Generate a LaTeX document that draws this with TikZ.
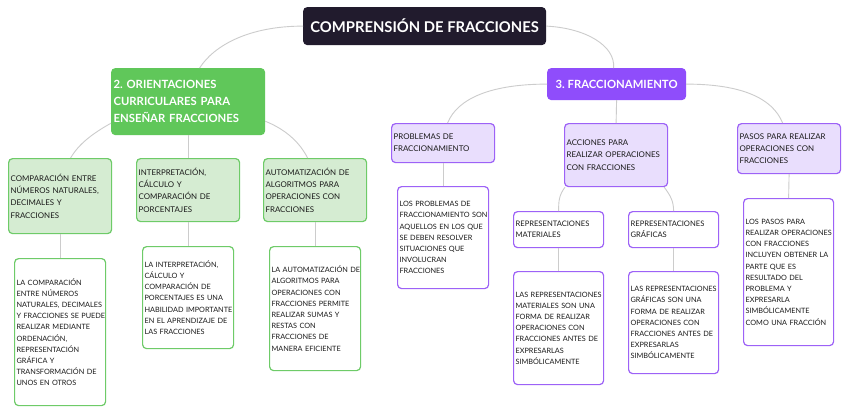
\documentclass[tikz,border=0pt]{standalone}
\usepackage{fontspec}
\setmainfont{Lato}
\usetikzlibrary{calc}
\frenchspacing
\hyphenpenalty=10000
\exhyphenpenalty=10000
\definecolor{rootfill}{HTML}{211B2D}
\definecolor{gmain}{HTML}{60C75A}
\definecolor{glight}{HTML}{D5ECD2}
\definecolor{gborder}{HTML}{6ECB68}
\definecolor{pmain}{HTML}{8F4DFB}
\definecolor{plight}{HTML}{E9DEFD}
\definecolor{pborder}{HTML}{9D62F7}
\definecolor{edgec}{HTML}{CCCCCC}
\definecolor{txt}{HTML}{1A1A1A}
\tikzset{
  base/.style={rectangle, rounded corners=4pt, anchor=north west, inner xsep=2pt, inner ysep=0pt, align=left, line width=1.2pt},
  rootbox/.style={base, fill=rootfill, draw=rootfill, text=white, align=center, font=\fontsize{14.8}{17}\selectfont\bfseries},
  gmainbox/.style={base, fill=gmain, draw=gmain, text=white, font=\fontsize{11.3}{17}\selectfont\bfseries},
  pmainbox/.style={base, fill=pmain, draw=pmain, text=white, align=center, font=\fontsize{11.3}{17}\selectfont\bfseries},
  gchild/.style={base, fill=glight, draw=gborder, text=txt, font=\fontsize{7.9}{12.3}\selectfont},
  gdetail/.style={base, fill=white, draw=gborder, text=txt, font=\fontsize{7.3}{11.2}\selectfont},
  pchild/.style={base, fill=plight, draw=pborder, text=txt, font=\fontsize{7.9}{12.1}\selectfont},
  pchildsmall/.style={base, fill=white, draw=pborder, text=txt, font=\fontsize{7.6}{11.3}\selectfont},
  pdetail/.style={base, fill=white, draw=pborder, text=txt, font=\fontsize{7.3}{11.2}\selectfont},
  conn/.style={draw=edgec, line width=0.9pt}
}
\begin{document}
\begin{tikzpicture}[x=1pt,y=-1pt]
\useasboundingbox[fill=white] (0,0) rectangle (848,413);

% nodes
\node[rootbox, minimum width=242pt, minimum height=37pt] (root) at (303,7) {COMPRENSIÓN DE FRACCIONES};

\node[gmainbox, text width=149pt, minimum height=66pt] (g) at (111,68) {2.~ORIENTACIONES\\CURRICULARES~PARA\\ENSEÑAR~FRACCIONES};
\node[pmainbox, minimum width=138pt, minimum height=31pt] (p) at (547,68) {3. FRACCIONAMIENTO};

\node[gchild, text width=99pt, minimum height=75pt] (c1) at (8,158) {COMPARACIÓN~ENTRE\\NÚMEROS~NATURALES,\\DECIMALES~Y\\FRACCIONES};
\node[gchild, text width=99pt, minimum height=63pt] (c2) at (136,158) {INTERPRETACIÓN,\\CÁLCULO~Y\\COMPARACIÓN~DE\\PORCENTAJES};
\node[gchild, text width=99pt, minimum height=63pt] (c3) at (263,158) {AUTOMATIZACIÓN~DE\\ALGORITMOS~PARA\\OPERACIONES~CON\\FRACCIONES};

\node[gdetail, text width=87pt, minimum height=147pt] (d1) at (14,258) {LA~COMPARACIÓN\\ENTRE~NÚMEROS\\NATURALES,~DECIMALES\\Y~FRACCIONES~SE~PUEDE\\REALIZAR~MEDIANTE\\ORDENACIÓN,\\REPRESENTACIÓN\\GRÁFICA~Y\\TRANSFORMACIÓN~DE\\UNOS~EN~OTROS};
\node[gdetail, text width=87pt, minimum height=102pt] (d2) at (142,246) {LA~INTERPRETACIÓN,\\CÁLCULO~Y\\COMPARACIÓN~DE\\PORCENTAJES~ES~UNA\\HABILIDAD~IMPORTANTE\\EN~EL~APRENDIZAJE~DE\\LAS~FRACCIONES};
\node[gdetail, text width=87pt, minimum height=124pt] (d3) at (269,246) {LA~AUTOMATIZACIÓN~DE\\ALGORITMOS~PARA\\OPERACIONES~CON\\FRACCIONES~PERMITE\\REALIZAR~SUMAS~Y\\RESTAS~CON\\FRACCIONES~DE\\MANERA~EFICIENTE};

\node[pchild, text width=99pt, minimum height=39pt] (q1) at (391,123) {PROBLEMAS~DE\\FRACCIONAMIENTO};
\node[pchild, text width=99pt, minimum height=63pt] (q2) at (564,123) {ACCIONES~PARA\\REALIZAR~OPERACIONES\\CON~FRACCIONES};
\node[pchild, text width=99pt, minimum height=50pt] (q3) at (737,123) {PASOS~PARA~REALIZAR\\OPERACIONES~CON\\FRACCIONES};

\node[pdetail, text width=87pt, minimum height=102pt] (q1d) at (397,186) {LOS~PROBLEMAS~DE\\FRACCIONAMIENTO~SON\\AQUELLOS~EN~LOS~QUE\\SE~DEBEN~RESOLVER\\SITUACIONES~QUE\\INVOLUCRAN\\FRACCIONES};
\node[pdetail, text width=86pt, minimum height=147pt] (q3d) at (743,198) {LOS~PASOS~PARA\\REALIZAR~OPERACIONES\\CON~FRACCIONES\\INCLUYEN~OBTENER~LA\\PARTE~QUE~ES\\RESULTADO~DEL\\PROBLEMA~Y\\EXPRESARLA\\SIMBÓLICAMENTE\\COMO~UNA~FRACCIÓN};

\node[pchildsmall, text width=86pt, minimum height=36pt] (rm) at (513,211) {REPRESENTACIONES\\MATERIALES};
\node[pchildsmall, text width=86pt, minimum height=36pt] (rg) at (628,211) {REPRESENTACIONES\\GRÁFICAS};
\node[pdetail, text width=86pt, minimum height=113pt] (rmd) at (513,271) {LAS~REPRESENTACIONES\\MATERIALES~SON~UNA\\FORMA~DE~REALIZAR\\OPERACIONES~CON\\FRACCIONES~ANTES~DE\\EXPRESARLAS\\SIMBÓLICAMENTE};
\node[pdetail, text width=86pt, minimum height=102pt] (rgd) at (628,271) {LAS~REPRESENTACIONES\\GRÁFICAS~SON~UNA\\FORMA~DE~REALIZAR\\OPERACIONES~CON\\FRACCIONES~ANTES~DE\\EXPRESARLAS\\SIMBÓLICAMENTE};

% connectors
\draw[conn] (root.west) .. controls +(-55,0) and +(14,-22) .. ($(g.north)+(11.5,0)$);
\draw[conn] (root.east) .. controls +(40,2) and +(2,-22) .. ($(p.north)+(-3,0)$);

\draw[conn] ($(g.south west)+(0,-12)$) .. controls +(-18,10) and +(8,-14) .. ($(c1.north)+(10.5,0)$);
\draw[conn] (g.south) -- (c2.north);
\draw[conn] ($(g.south east)+(0,-14)$) .. controls +(20,8) and +(-8,-16) .. ($(c3.north)+(-7.5,0)$);

\draw[conn] (c1.south) -- (d1.north);
\draw[conn] (c2.south) -- (d2.north);
\draw[conn] (c3.south) -- (d3.north);

\draw[conn] (p.west) .. controls +(-55,0) and +(10,-25) .. ($(q1.north)+(4.5,0)$);
\draw[conn] (p.south) -- (q2.north);
\draw[conn] (p.east) .. controls +(55,0) and +(-10,-25) .. ($(q3.north)+(-6.5,0)$);

\draw[conn] (q1.south) -- (q1d.north);
\draw[conn] (q3.south) -- (q3d.north);

\draw[conn] ($(q2.south west)+(1,0)$) .. controls +(-6,8) and +(0,-10) .. (rm.north);
\draw[conn] ($(q2.south east)+(-4,0)$) .. controls +(6,8) and +(0,-10) .. (rg.north);

\draw[conn] (rm.south) -- (rmd.north);
\draw[conn] (rg.south) -- (rgd.north);
\end{tikzpicture}
\end{document}
